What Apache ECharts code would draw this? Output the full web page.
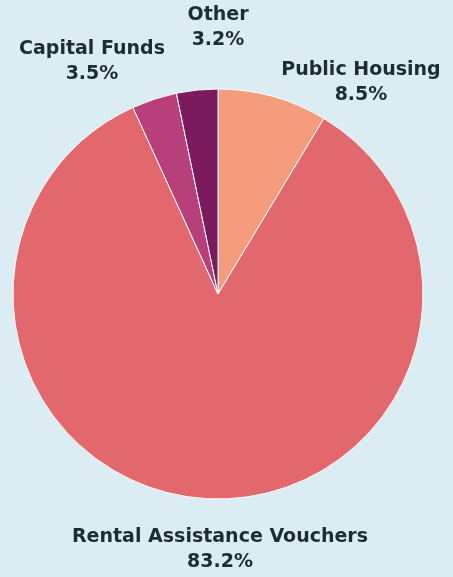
<!DOCTYPE html>
<html>
<head>
<meta charset="utf-8">
<script src="https://cdn.jsdelivr.net/npm/echarts@6/dist/echarts.min.js"></script>
<style>
html,body{margin:0;padding:0;background:#dcecf3;}
#chart{width:453px;height:577px;}
</style>
</head>
<body>
<div id="chart"></div>
<script>
var categories = ['Public Housing', 'Rental Assistance Vouchers', 'Capital Funds', 'Other'];
var shares = [8.5, 83.2, 3.5, 3.2];
var sliceColors = ['#f59c7c', '#e2686e', '#b8407a', '#7b1a5c'];
// label anchor positions (pixels), per category
var labelAnchors = [[361, 83], [220, 550], [92, 62], [218, 28]];

var chart = echarts.init(document.getElementById('chart'));
chart.setOption({
  backgroundColor: '#dcecf3',
  animation: false,
  series: [{
    type: 'pie',
    center: [218, 294],
    radius: 205,
    startAngle: 90,
    clockwise: true,
    avoidLabelOverlap: false,
    data: categories.map(function (c, i) {
      return { name: c, value: shares[i], itemStyle: { color: sliceColors[i] } };
    }),
    itemStyle: { borderColor: '#ffffff', borderWidth: 1 },
    label: {
      show: true,
      position: 'outside',
      formatter: '{b}\n{c}%',
      fontFamily: 'DejaVu Sans',
      fontWeight: 'bold',
      fontSize: 19,
      lineHeight: 25,
      color: '#1e2c33',
      align: 'center',
      overflow: 'none'
    },
    labelLine: { show: false },
    labelLayout: function (p) {
      var a = labelAnchors[p.dataIndex];
      return { x: a[0], y: a[1], align: 'center', verticalAlign: 'middle' };
    }
  }]
});
</script>
</body>
</html>
